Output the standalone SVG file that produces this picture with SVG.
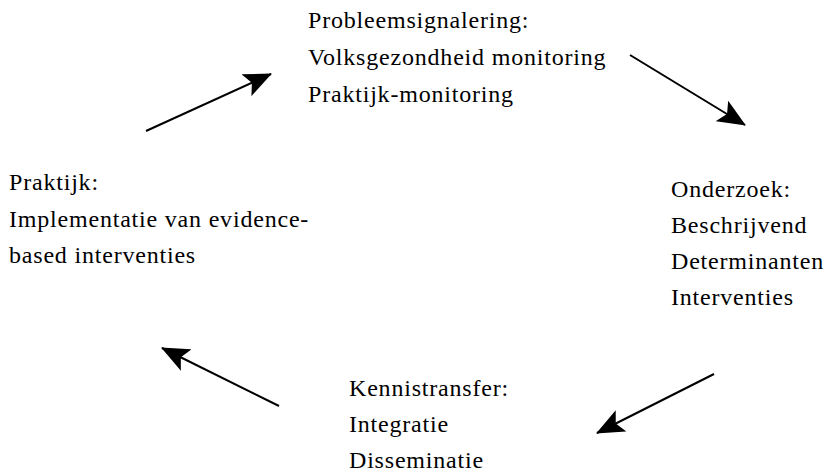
<svg xmlns="http://www.w3.org/2000/svg" width="831" height="473" viewBox="0 0 831 473">
<style>
text{font-family:"Liberation Serif","Times New Roman",serif;font-size:24px;fill:#000;letter-spacing:0.8px}
.c{stroke:#000;stroke-width:2;fill:none}
</style>
<defs>
<marker id="ah" viewBox="0 0 28 24" refX="27" refY="12" markerWidth="28" markerHeight="24" markerUnits="userSpaceOnUse" orient="auto">
<path d="M0,0 L28,12 L0,24 L6,12 Z" fill="#000"/>
</marker>
</defs>
<rect width="831" height="473" fill="#fff"/>
<g id="connectors">
<line class="c" x1="146" y1="131" x2="271" y2="74" marker-end="url(#ah)"/>
<line class="c" x1="630" y1="55" x2="745" y2="125" marker-end="url(#ah)"/>
<line class="c" x1="714" y1="374" x2="597" y2="433" marker-end="url(#ah)"/>
<line class="c" x1="279" y1="406" x2="162" y2="348" marker-end="url(#ah)"/>
</g>
<g id="probleemsignalering">
<text x="308" y="28">Probleemsignalering:</text>
<text x="308" y="65">Volksgezondheid monitoring</text>
<text x="308" y="102">Praktijk-monitoring</text>
</g>
<g id="onderzoek">
<text x="671" y="197">Onderzoek:</text>
<text x="671" y="233">Beschrijvend</text>
<text x="671" y="269">Determinanten</text>
<text x="671" y="305">Interventies</text>
</g>
<g id="kennistransfer">
<text x="349" y="396">Kennistransfer:</text>
<text x="349" y="432">Integratie</text>
<text x="349" y="468">Disseminatie</text>
</g>
<g id="praktijk">
<text x="9" y="190">Praktijk:</text>
<text x="9" y="227">Implementatie van evidence-</text>
<text x="9" y="263">based interventies</text>
</g>
</svg>
